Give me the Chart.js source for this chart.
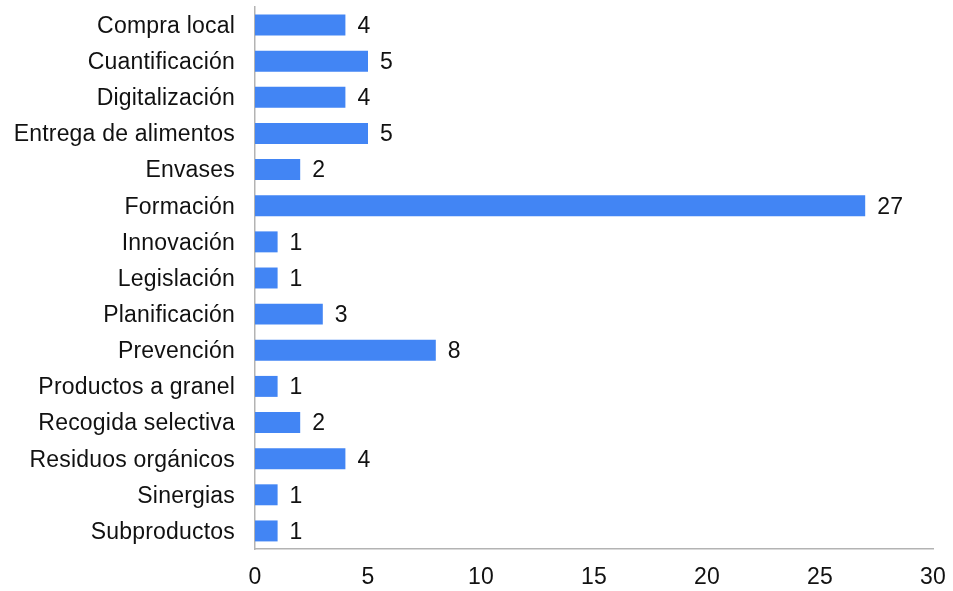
<!DOCTYPE html>
<html>
<head>
<meta charset="utf-8">
<script src="https://cdn.jsdelivr.net/npm/chart.js@4.4.1/dist/chart.umd.min.js"></script>
<style>
  html, body { margin: 0; padding: 0; background: #fff; }
  #wrap { width: 953px; height: 591px; position: relative; }
</style>
</head>
<body>
<div id="wrap"><canvas id="c"></canvas></div>
<script>
const categories = [
  "Compra local", "Cuantificación", "Digitalización", "Entrega de alimentos",
  "Envases", "Formación", "Innovación", "Legislación", "Planificación",
  "Prevención", "Productos a granel", "Recogida selectiva", "Residuos orgánicos",
  "Sinergias", "Subproductos"
];
const values = [4, 5, 4, 5, 2, 27, 1, 1, 3, 8, 1, 2, 4, 1, 1];
const xTicks = [0, 5, 10, 15, 20, 25, 30];

const FONT = "'Liberation Sans', Arial, sans-serif";
const SIZE = 23;
const SPACING = '0.2px';

const spacingPlugin = {
  id: 'spacing',
  beforeLayout(chart) { chart.ctx.letterSpacing = SPACING; },
  beforeDraw(chart) { chart.ctx.letterSpacing = SPACING; }
};

const valueLabels = {
  id: 'valueLabels',
  afterDatasetsDraw(chart) {
    const ctx = chart.ctx;
    const meta = chart.getDatasetMeta(0);
    ctx.save();
    ctx.letterSpacing = SPACING;
    ctx.font = SIZE + 'px ' + FONT;
    ctx.fillStyle = '#111';
    ctx.textAlign = 'left';
    ctx.textBaseline = 'middle';
    meta.data.forEach((bar, i) => {
      ctx.fillText(String(values[i]), bar.x + 12, bar.y + 1.5);
    });
    ctx.restore();
  }
};

function zeroPad(scale) {
  scale.paddingTop = 0; scale.paddingBottom = 0;
  scale.paddingLeft = 0; scale.paddingRight = 0;
}

new Chart(document.getElementById('c'), {
  type: 'bar',
  data: {
    labels: categories,
    datasets: [{
      data: values,
      backgroundColor: '#4285F4',
      borderWidth: 0,
      barPercentage: 0.58,
      categoryPercentage: 1.0
    }]
  },
  options: {
    indexAxis: 'y',
    responsive: true,
    maintainAspectRatio: false,
    animation: false,
    layout: { padding: { left: 0, right: 20, top: 7, bottom: 0 } },
    plugins: { legend: { display: false }, tooltip: { enabled: false } },
    scales: {
      x: {
        min: 0, max: 30,
        afterBuildTicks(scale) { scale.ticks = xTicks.map(v => ({ value: v })); },
        afterFit(scale) { scale.height = 42; zeroPad(scale); },
        grid: { display: false, drawTicks: false },
        border: { display: true, color: '#b3b3b3', width: 1.5 },
        ticks: { color: '#111', font: { family: FONT, size: SIZE }, padding: 15, maxRotation: 0 }
      },
      y: {
        afterFit(scale) { scale.width = 255; zeroPad(scale); },
        grid: { display: false, drawTicks: false },
        border: { display: true, color: '#b3b3b3', width: 1.5 },
        ticks: { color: '#111', font: { family: FONT, size: SIZE }, padding: 20, autoSkip: false, labelOffset: 1.5 }
      }
    }
  },
  plugins: [spacingPlugin, valueLabels]
});
</script>
</body>
</html>
